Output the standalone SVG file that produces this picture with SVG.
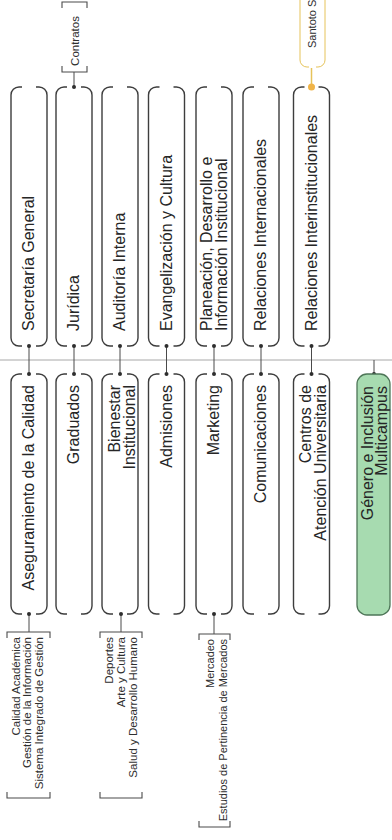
<svg xmlns="http://www.w3.org/2000/svg" xmlns:xlink="http://www.w3.org/1999/xlink" width="392" height="840" viewBox="0 0 392 840">
<style>
.shape{fill:none;stroke:#3d3d3d;stroke-width:1.4}
.lbl{font-family:"Liberation Sans",Arial,sans-serif;font-size:16px;fill:#262626}
.sm{font-family:"Liberation Sans",Arial,sans-serif;font-size:11.5px;fill:#2e2e2e}
.br{fill:none;stroke:#4a4a4a;stroke-width:1.1}
.conn{fill:none;stroke:#4a4a4a;stroke-width:1}
.spine{fill:none;stroke:#a8a8a8;stroke-width:1}
.dot{fill:#2e2e2e}
.gold{fill:none;stroke:#e6c35a;stroke-width:1}
</style>
<defs>
<path id="up" d="M11,0 H8 A8,8 0 0 0 0,8 V251 A8,8 0 0 0 8,259 H11 M25,0 H28 A8,8 0 0 1 36,8 V251 A8,8 0 0 1 28,259 H25"/>
<path id="lo" d="M11,0 H8 A8,8 0 0 0 0,8 V232 A8,8 0 0 0 8,240 H11 M25,0 H28 A8,8 0 0 1 36,8 V232 A8,8 0 0 1 28,240 H25"/>
</defs>

<g id="connectors">
<line class="spine" x1="0" y1="360" x2="392" y2="360"/>
<line class="conn" x1="29" y1="346" x2="29" y2="374"/>
<line class="conn" x1="74" y1="346" x2="74" y2="374"/>
<line class="conn" x1="120" y1="346" x2="120" y2="374"/>
<line class="conn" x1="166.5" y1="346" x2="166.5" y2="374"/>
<line class="conn" x1="214" y1="346" x2="214" y2="374"/>
<line class="conn" x1="261" y1="346" x2="261" y2="374"/>
<line class="conn" x1="311.5" y1="346" x2="311.5" y2="374"/>
<line class="conn" x1="374" y1="360" x2="374" y2="374"/>
<line class="conn" x1="74" y1="87" x2="74" y2="72"/>
<line class="gold" x1="311.5" y1="87" x2="311.5" y2="68" style="stroke-width:1.5"/>
<line class="conn" x1="29" y1="614" x2="29" y2="632"/>
<line class="conn" x1="121" y1="614" x2="121" y2="632"/>
<line class="conn" x1="214" y1="614" x2="214" y2="634"/>
<g class="dot">
<circle cx="29" cy="346" r="2"/><circle cx="29" cy="374" r="2"/>
<circle cx="74" cy="346" r="2"/><circle cx="74" cy="374" r="2"/>
<circle cx="120" cy="346" r="2"/><circle cx="120" cy="374" r="2"/>
<circle cx="166.5" cy="346" r="2"/><circle cx="166.5" cy="374" r="2"/>
<circle cx="214" cy="346" r="2"/><circle cx="214" cy="374" r="2"/>
<circle cx="261" cy="346" r="2"/><circle cx="261" cy="374" r="2"/>
<circle cx="311.5" cy="346" r="2"/><circle cx="311.5" cy="374" r="2"/>
<circle cx="374" cy="374" r="2"/>
<circle cx="74" cy="87" r="2"/>
<circle cx="29" cy="614" r="2"/>
<circle cx="121" cy="614" r="2"/>
<circle cx="214" cy="614" r="2"/>
</g>
<circle cx="311.5" cy="87" r="3.5" fill="#f0b448"/>
</g>

<g id="n-secretaria">
<use xlink:href="#up" href="#up" class="shape" x="11" y="87"/>
<text class="lbl" transform="translate(34,331) rotate(-90)">Secretaría General</text>
</g>
<g id="n-juridica">
<use xlink:href="#up" href="#up" class="shape" x="56" y="87"/>
<text class="lbl" transform="translate(79,331) rotate(-90)">Jurídica</text>
</g>
<g id="n-auditoria">
<use xlink:href="#up" href="#up" class="shape" x="102" y="87"/>
<text class="lbl" transform="translate(125,331) rotate(-90)">Auditoría Interna</text>
</g>
<g id="n-evangelizacion">
<use xlink:href="#up" href="#up" class="shape" x="148.5" y="87"/>
<text class="lbl" transform="translate(171.5,331) rotate(-90)">Evangelización y Cultura</text>
</g>
<g id="n-planeacion">
<use xlink:href="#up" href="#up" class="shape" x="196" y="87"/>
<text class="lbl" transform="translate(211.5,331) rotate(-90)"><tspan x="0" y="0">Planeación, Desarrollo e</tspan><tspan x="0" y="15.5">Información Institucional</tspan></text>
</g>
<g id="n-rel-internacionales">
<use xlink:href="#up" href="#up" class="shape" x="243" y="87"/>
<text class="lbl" transform="translate(266,331) rotate(-90)">Relaciones Internacionales</text>
</g>
<g id="n-rel-interinstitucionales">
<use xlink:href="#up" href="#up" class="shape" x="293.5" y="87"/>
<text class="lbl" transform="translate(316.5,331) rotate(-90)">Relaciones Interinstitucionales</text>
</g>

<g id="n-aseguramiento">
<use xlink:href="#lo" href="#lo" class="shape" x="11" y="374"/>
<text class="lbl" text-anchor="end" transform="translate(34,385) rotate(-90)">Aseguramiento de la Calidad</text>
</g>
<g id="n-graduados">
<use xlink:href="#lo" href="#lo" class="shape" x="56" y="374"/>
<text class="lbl" text-anchor="end" transform="translate(79,385) rotate(-90)">Graduados</text>
</g>
<g id="n-bienestar">
<use xlink:href="#lo" href="#lo" class="shape" x="102" y="374"/>
<text class="lbl" text-anchor="end" transform="translate(120,385) rotate(-90)"><tspan x="0" y="0">Bienestar</tspan><tspan x="0" y="15">Institucional</tspan></text>
</g>
<g id="n-admisiones">
<use xlink:href="#lo" href="#lo" class="shape" x="148.5" y="374"/>
<text class="lbl" text-anchor="end" transform="translate(171.5,385) rotate(-90)">Admisiones</text>
</g>
<g id="n-marketing">
<use xlink:href="#lo" href="#lo" class="shape" x="196" y="374"/>
<text class="lbl" text-anchor="end" transform="translate(219,385) rotate(-90)">Marketing</text>
</g>
<g id="n-comunicaciones">
<use xlink:href="#lo" href="#lo" class="shape" x="243" y="374"/>
<text class="lbl" text-anchor="end" transform="translate(266,385) rotate(-90)">Comunicaciones</text>
</g>
<g id="n-centros">
<use xlink:href="#lo" href="#lo" class="shape" x="293.5" y="374"/>
<text class="lbl" text-anchor="end" transform="translate(310.5,385) rotate(-90)"><tspan x="0" y="0">Centros de</tspan><tspan x="0" y="15">Atención Universitaria</tspan></text>
</g>
<g id="n-genero">
<rect x="357" y="374" width="33" height="241" rx="10" fill="#a7dbb0" stroke="#4e7658" stroke-width="1.3"/>
<text class="lbl" text-anchor="end" transform="translate(372.5,386) rotate(-90)"><tspan x="0" y="0">Género e Inclusión</tspan><tspan x="0" y="14.5">Multicampus</tspan></text>
</g>

<g id="n-contratos">
<path class="br" d="M62,8 V2 H87 V8 M62,66 V72 H87 V66"/>
<text class="sm" text-anchor="middle" transform="translate(79,41) rotate(-90)">Contratos</text>
</g>
<g id="n-santoto">
<path class="gold" d="M300,-20 V60 A7,7 0 0 0 307,67 H309 M325,-20 V60 A7,7 0 0 1 318,67 H316"/>
<text class="sm" style="font-size:11px" transform="translate(316,48) rotate(-90)">Santoto S</text>
</g>
<g id="n-calidad">
<path class="br" d="M7,638 V632 H50 V638 M7,792 V798 H50 V792"/>
<text class="sm" text-anchor="end" transform="translate(19.5,637) rotate(-90)"><tspan x="0" y="0">Calidad Académica</tspan><tspan x="0" y="11.8">Gestión de la Información</tspan><tspan x="0" y="23.4">Sistema Integrado de Gestión</tspan></text>
</g>
<g id="n-deportes">
<path class="br" d="M100,638 V632 H142 V638 M100,792 V798 H142 V792"/>
<text class="sm" text-anchor="end" transform="translate(113,637) rotate(-90)"><tspan x="0" y="0">Deportes</tspan><tspan x="0" y="12">Arte y Cultura</tspan><tspan x="0" y="24">Salud y Desarrollo Humano</tspan></text>
</g>
<g id="n-mercadeo">
<path class="br" d="M199,640 V634 H230 V640 M199,821 V827 H230 V821"/>
<text class="sm" style="font-size:11px" text-anchor="end" transform="translate(214,639) rotate(-90)"><tspan x="0" y="0">Mercadeo</tspan><tspan x="0" y="13">Estudios de Pertinencia de Mercados</tspan></text>
</g>
</svg>
